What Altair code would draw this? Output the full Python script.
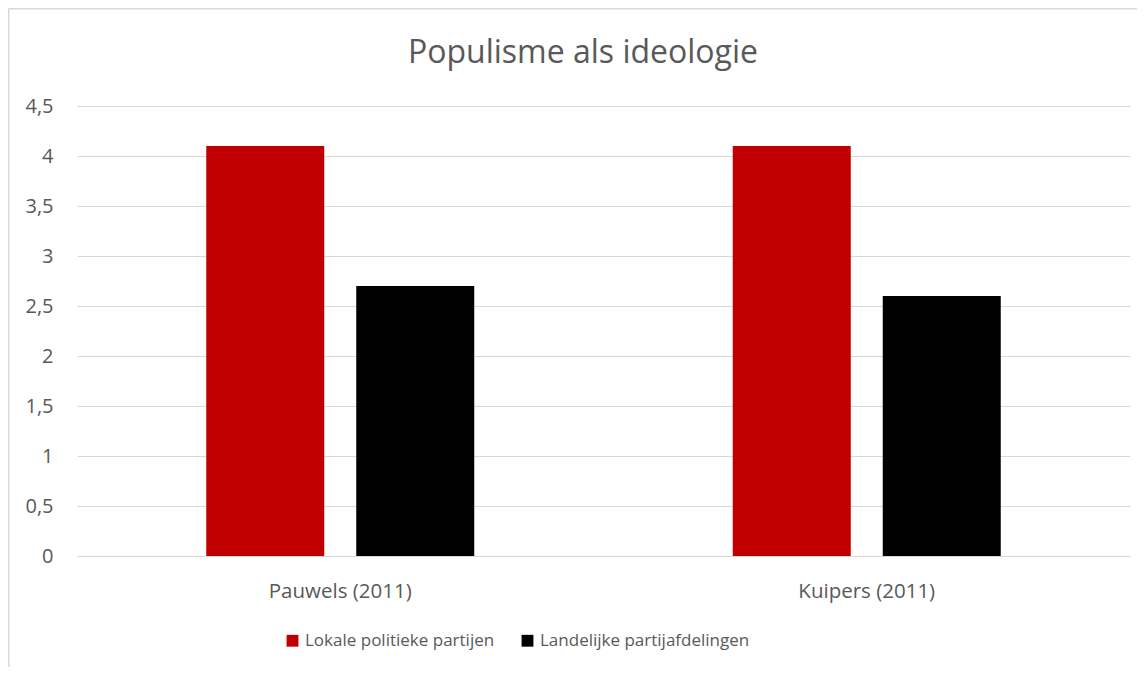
import altair as alt
import pandas as pd

title_text = "Populisme als ideologie"
categories = ["Pauwels (2011)", "Kuipers (2011)"]
series = ["Lokale politieke partijen", "Landelijke partijafdelingen"]
lokale = [4.1, 4.1]
landelijke = [2.7, 2.6]
colors = ["#C00000", "#000000"]
y_ticks = [0, 0.5, 1, 1.5, 2, 2.5, 3, 3.5, 4, 4.5]

rows = []
for i, c in enumerate(categories):
    rows.append({"cat": c, "series": series[0], "value": lokale[i]})
    rows.append({"cat": c, "series": series[1], "value": landelijke[i]})
df = pd.DataFrame(rows)

FONT = "Open Sans"
TXT = "#595959"
GRID = "#d9d9d9"
W, H = 1053, 450
PL, PT = 69, 98

bars = alt.Chart(df).mark_bar().encode(
    x=alt.X("cat:N", sort=categories, title=None,
            scale=alt.Scale(paddingInner=0.491, paddingOuter=0.2455),
            axis=alt.Axis(labelAngle=0, ticks=False, grid=False, domain=True, domainColor=GRID,
                          labelPadding=25, labelFontSize=20.5, labelColor=TXT, labelFont=FONT)),
    xOffset=alt.XOffset("series:N", sort=series,
                        scale=alt.Scale(paddingInner=0.2133, paddingOuter=0)),
    y=alt.Y("value:Q", title=None,
            scale=alt.Scale(domain=[0, 4.5], nice=False),
            axis=alt.Axis(values=y_ticks, ticks=False, domain=False, gridColor=GRID,
                          labelPadding=24, labelFontSize=20, labelColor=TXT, labelFont=FONT,
                          labelExpr="replace(format(datum.value, '.1~f'), '.', ',')")),
    color=alt.Color("series:N", sort=series,
                    scale=alt.Scale(domain=series, range=colors),
                    legend=alt.Legend(title=None, orient="none", direction="horizontal",
                                      legendX=207, legendY=526, symbolType="square",
                                      symbolSize=140, symbolStrokeWidth=0,
                                      labelFontSize=17, labelColor=TXT, labelFont=FONT,
                                      labelLimit=0, columnPadding=24, labelOffset=4)),
)

title_df = pd.DataFrame({"t": [title_text]})
title = alt.Chart(title_df).mark_text(
    font=FONT, fontSize=32, color=TXT, baseline="alphabetic", align="center"
).encode(text="t:N", x=alt.value(506), y=alt.value(-43))

frame_df = pd.DataFrame({"k": [0]})
frame_left = alt.Chart(frame_df).mark_rule(color=GRID, strokeWidth=2).encode(
    x=alt.value(-PL + 0.5), y=alt.value(-PT + 0.5), y2=alt.value(H + 200))
frame_top = alt.Chart(frame_df).mark_rule(color=GRID, strokeWidth=2).encode(
    x=alt.value(-PL + 0.5), x2=alt.value(W + 200), y=alt.value(-PT + 0.5))

chart = alt.layer(bars, title, frame_left, frame_top).properties(
    width=W, height=H,
    background="white",
    autosize=alt.AutoSizeParams(type="none"),
    padding={"left": PL, "top": PT, "right": 7, "bottom": 111},
).configure_view(strokeWidth=0, stroke="transparent")

chart.save("out.html", embed_options={"renderer": "svg", "actions": False})
